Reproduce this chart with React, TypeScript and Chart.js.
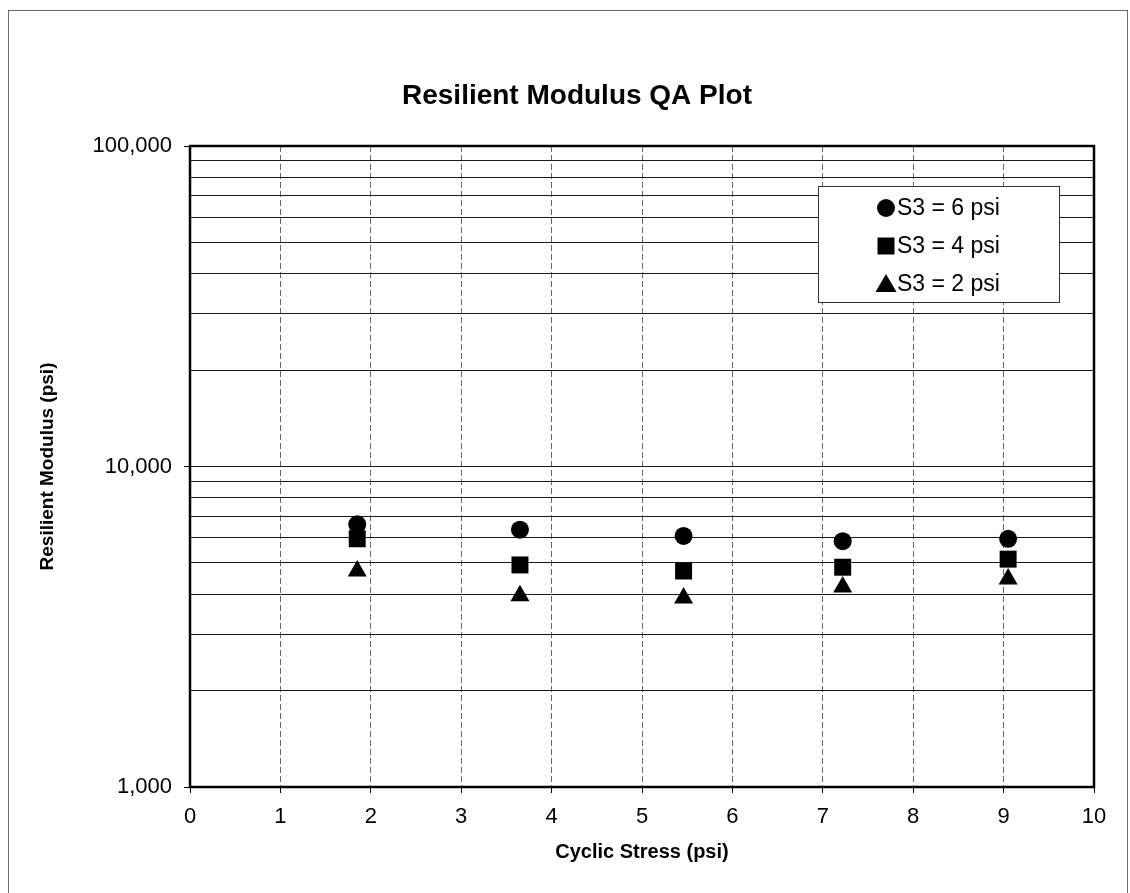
import { useEffect, useRef } from "react";
import { Chart, registerables } from "chart.js";

Chart.register(...registerables);

// Cyclic stress levels (psi) at which each confining pressure was tested
const stressX = [1.85, 3.65, 5.46, 7.22, 9.05];

// Resilient modulus (psi) per confining pressure S3
const modulusS3Six = [6600, 6350, 6070, 5850, 5950];
const modulusS3Four = [5950, 4930, 4720, 4850, 5140];
const modulusS3Two = [4720, 3950, 3890, 4210, 4460];

const seriesLabels = ["S3 = 6 psi", "S3 = 4 psi", "S3 = 2 psi"];
const seriesShapes = ["circle", "rect", "triangle"] as const;

// Log-axis ticks: labelled decades plus unlabelled 2..9 lines in between
const decadeTicks = [1000, 10000, 100000];
const minorMultipliers = [2, 3, 4, 5, 6, 7, 8, 9];

const FONT = '"Liberation Sans", Arial, Helvetica, sans-serif';

const pageFrame = {
  id: "pageFrame",
  beforeDraw(chart: Chart) {
    const ctx = chart.ctx;
    ctx.save();
    ctx.fillStyle = "#ffffff";
    ctx.fillRect(0, 0, chart.width, chart.height);
    ctx.strokeStyle = "#6a6a6a";
    ctx.lineWidth = 1;
    ctx.strokeRect(8.5, 10.5, chart.width - 11, chart.height + 20);
    ctx.fillStyle = "#000";
    ctx.font = `bold 28px ${FONT}`;
    ctx.textAlign = "center";
    ctx.textBaseline = "middle";
    ctx.fillText("Resilient Modulus QA Plot", 577, 96);
    ctx.restore();
  },
  afterDraw(chart: Chart) {
    const { ctx, chartArea } = chart;
    ctx.save();
    // plot frame
    ctx.strokeStyle = "#000";
    ctx.lineWidth = 2.5;
    ctx.strokeRect(chartArea.left, chartArea.top, chartArea.right - chartArea.left, chartArea.bottom - chartArea.top);

    // legend box inside the plot
    const bx = chartArea.right - 276;
    const by = chartArea.top + 40;
    const bw = 241;
    const bh = 116;
    ctx.fillStyle = "#fff";
    ctx.fillRect(bx, by, bw, bh);
    ctx.strokeStyle = "#333";
    ctx.lineWidth = 1;
    ctx.strokeRect(bx + 0.5, by + 0.5, bw, bh);

    ctx.font = `23px ${FONT}`;
    ctx.textAlign = "left";
    ctx.textBaseline = "middle";
    seriesLabels.forEach((label, i) => {
      const cy = by + 22 + i * 38;
      const cx = bx + 68;
      ctx.fillStyle = "#000";
      ctx.beginPath();
      const shape = seriesShapes[i];
      if (shape === "circle") {
        ctx.arc(cx, cy, 9, 0, Math.PI * 2);
      } else if (shape === "rect") {
        ctx.rect(cx - 8.5, cy - 8.5, 17, 17);
      } else {
        ctx.moveTo(cx, cy - 10);
        ctx.lineTo(cx + 10.5, cy + 8);
        ctx.lineTo(cx - 10.5, cy + 8);
        ctx.closePath();
      }
      ctx.fill();
      ctx.fillText(label, cx + 11, cy + 1);
    });
    ctx.restore();
  },
};

export default function App() {
  const canvasRef = useRef<HTMLCanvasElement | null>(null);

  useEffect(() => {
    document.body.style.margin = "0";
    const canvas = canvasRef.current;
    if (!canvas) return;

    const yTicks: number[] = [];
    decadeTicks.slice(0, -1).forEach((d) => {
      yTicks.push(d);
      minorMultipliers.forEach((m) => yTicks.push(d * m));
    });
    yTicks.push(decadeTicks[decadeTicks.length - 1]);

    const toPoints = (vals: number[]) => vals.map((y, i) => ({ x: stressX[i], y }));

    const chart = new Chart(canvas, {
      type: "scatter",
      data: {
        datasets: [
          { label: seriesLabels[0], data: toPoints(modulusS3Six), pointStyle: "circle", pointRadius: 9 },
          { label: seriesLabels[1], data: toPoints(modulusS3Four), pointStyle: "rect", pointRadius: 12 },
          { label: seriesLabels[2], data: toPoints(modulusS3Two), pointStyle: "triangle", pointRadius: 11 },
        ].map((ds) => ({
          ...ds,
          backgroundColor: "#000",
          borderColor: "#000",
          borderWidth: 0,
          pointHoverRadius: ds.pointRadius,
        })),
      },
      options: {
        animation: false,
        responsive: false,
        devicePixelRatio: 1,
        layout: { padding: { top: 146, left: 0, right: 36, bottom: 0 } },
        plugins: {
          legend: { display: false },
          title: { display: false },
          tooltip: { enabled: false },
        },
        scales: {
          x: {
            type: "linear",
            min: 0,
            max: 10,
            ticks: {
              stepSize: 1,
              color: "#000",
              font: { family: FONT, size: 22 },
              padding: 11,
            },
            grid: {
              color: "#666",
              lineWidth: 1,
              tickLength: 6,
              tickColor: "#000",
            },
            border: { display: false, dash: [6, 3] },
            title: {
              display: true,
              text: "Cyclic Stress (psi)",
              color: "#000",
              font: { family: FONT, size: 20, weight: "bold" },
              padding: { top: 29, bottom: 29 },
            },
            afterFit(scale: any) {
              scale.height = 106;
            },
          },
          y: {
            type: "logarithmic",
            min: 1000,
            max: 100000,
            afterBuildTicks(scale: any) {
              scale.ticks = yTicks.map((v) => ({ value: v, major: decadeTicks.includes(v) }));
            },
            ticks: {
              autoSkip: false,
              color: "#000",
              font: { family: FONT, size: 22 },
              padding: 12,
              callback: (value: any) =>
                decadeTicks.includes(Number(value)) ? Number(value).toLocaleString("en-US") : "",
            },
            grid: {
              color: "#1a1a1a",
              lineWidth: 1,
              tickLength: 6,
              tickColor: (ctx: any) =>
                ctx.tick && decadeTicks.includes(ctx.tick.value) ? "#000" : "rgba(0,0,0,0)",
            },
            border: { display: false },
            title: {
              display: true,
              text: "Resilient Modulus (psi)",
              color: "#000",
              font: { family: FONT, size: 19, weight: "bold" },
              padding: { top: 36, bottom: 36 },
            },
            afterFit(scale: any) {
              scale.width = 190;
            },
          },
        },
      },
      plugins: [pageFrame],
    });

    return () => chart.destroy();
  }, []);

  return (
    <div style={{ width: 1130, height: 893 }}>
      <canvas ref={canvasRef} width={1130} height={893} style={{ display: "block" }} />
    </div>
  );
}
